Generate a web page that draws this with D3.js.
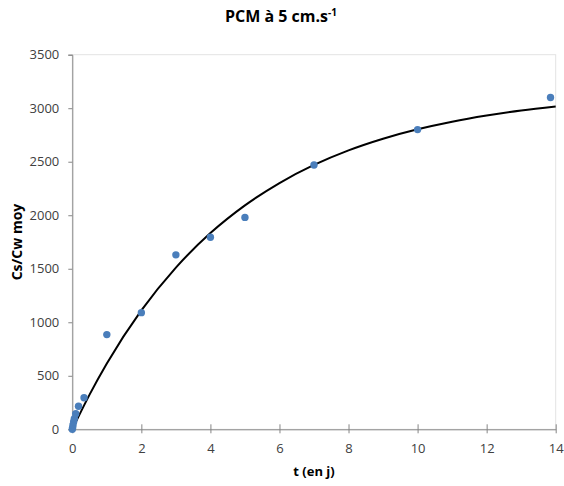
<!DOCTYPE html>
<html><head><meta charset="utf-8">
<script src="https://cdn.jsdelivr.net/npm/d3@7"></script>
<style>body{margin:0;background:#fff;} svg{display:block;}</style>
</head><body>
<svg id="chart" width="564" height="486"></svg>
<script>
const pointsT = [0, 0.01, 0.02, 0.04, 0.06, 0.1, 0.18, 0.34, 1, 2, 3, 4, 5, 7, 10, 13.85];
const pointsY = [0, 15, 40, 70, 100, 145, 215, 295, 885, 1090, 1630, 1795, 1980, 2470, 2800, 3100];
const curveT = [0, 0.5, 1, 2, 3, 4, 5, 6, 7, 8, 9, 10, 11, 12, 13, 14];
const curveY = [0, 324, 615, 1111, 1511, 1833, 2092, 2301, 2470, 2606, 2715, 2803, 2874, 2931, 2978, 3015];
const xTicks = [0, 2, 4, 6, 8, 10, 12, 14];
const yTicks = [0, 500, 1000, 1500, 2000, 2500, 3000, 3500];
const titleMain = "PCM à 5 cm.s";
const titleSup = "-1";
const xLabel = "t (en j)";
const yLabel = "Cs/Cw moy";

const svg = d3.select("#chart");
const L = 72.3, R = 555.7, T = 54.7, B = 429.3;
const x = d3.scaleLinear().domain([0, 14]).range([L, R]);
const y = d3.scaleLinear().domain([0, 3500]).range([B, T]);
const font = "'Open Sans', 'Liberation Sans', sans-serif";
const axisCol = "#868686";

// plot border
svg.append("rect").attr("x", L).attr("y", T).attr("width", R - L).attr("height", B - T)
  .attr("fill", "none").attr("stroke", "#e3e3e3").attr("stroke-width", 1);

// y axis
const yAxis = d3.axisLeft(y).tickValues(yTicks).tickSize(4).tickPadding(9).tickFormat(d3.format("d"));
const gy = svg.append("g").attr("transform", `translate(${L},0)`).call(yAxis);
gy.select(".domain").attr("stroke", axisCol);
gy.selectAll(".tick line").attr("stroke", axisCol);
gy.selectAll(".tick text").attr("fill", "#404040").style("font-family", font).style("font-size", "13px");

// x axis (cross ticks)
const xAxis = d3.axisBottom(x).tickValues(xTicks).tickSizeInner(4).tickSizeOuter(0).tickPadding(10).tickFormat(d3.format("d"));
const gx = svg.append("g").attr("transform", `translate(0,${B})`).call(xAxis);
gx.select(".domain").attr("stroke", axisCol);
gx.selectAll(".tick line").attr("stroke", axisCol).attr("y1", -5).attr("y2", 4);
gx.selectAll(".tick text").attr("fill", "#404040").style("font-family", font).style("font-size", "13px");

// curve
const line = d3.line().x((d, i) => x(curveT[i])).y((d, i) => y(curveY[i])).curve(d3.curveMonotoneX);
svg.append("path").datum(curveY).attr("d", line).attr("fill", "none")
  .attr("stroke", "#000").attr("stroke-width", 2);

// points
svg.append("g").selectAll("circle").data(pointsT).join("circle")
  .attr("cx", (d) => x(d)).attr("cy", (d, i) => y(pointsY[i])).attr("r", 3.7)
  .attr("fill", "#4A7EBB");

// title
const title = svg.append("text").attr("x", 281).attr("y", 22).attr("text-anchor", "middle")
  .style("font-family", font).style("font-size", "16px").style("font-weight", "bold").attr("fill", "#000");
title.append("tspan").text(titleMain);
title.append("tspan").text(titleSup).attr("dy", -6).style("font-size", "10px");

// axis labels
svg.append("text").attr("x", 314).attr("y", 476).attr("text-anchor", "middle")
  .style("font-family", font).style("font-size", "13px").style("font-weight", "bold").text(xLabel);
svg.append("text").attr("transform", "translate(22,242) rotate(-90)").attr("text-anchor", "middle")
  .style("font-family", font).style("font-size", "14px").style("font-weight", "bold").text(yLabel);
</script>
</body></html>
